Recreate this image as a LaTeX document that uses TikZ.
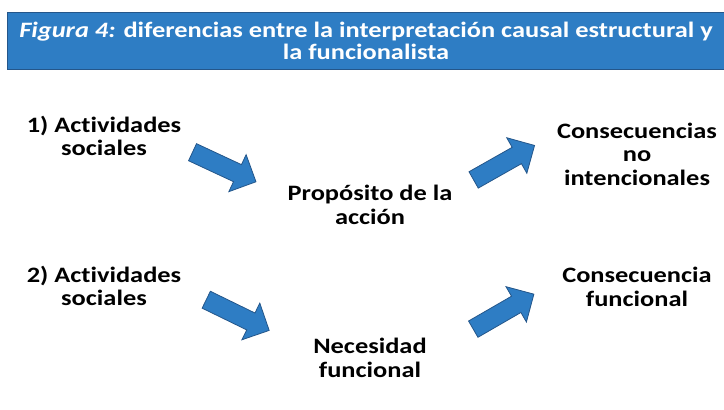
\documentclass[tikz,border=0pt]{standalone}
\usepackage{fontspec}
\setmainfont{Carlito}[FakeStretch=1.2, Ligatures=NoCommon]
\usetikzlibrary{shapes.arrows}
\definecolor{barblue}{RGB}{46,125,196}
\definecolor{edgeblue}{RGB}{36,86,138}
\tikzset{
  label/.style={font=\bfseries\fontsize{22}{23.5}\selectfont, align=center, inner sep=0pt},
  blockarrow/.style={single arrow, fill=barblue, draw=edgeblue, line width=0.8pt,
    minimum height=70, inner xsep=0pt, inner ysep=9pt, single arrow head extend=11pt,
    single arrow tip angle=90},
}
\begin{document}
\begin{tikzpicture}[x=1pt,y=-1pt]
\useasboundingbox (0,0) rectangle (724,410);
%title bar
\node [fill=barblue, draw=edgeblue, line width=1pt, minimum width=718, minimum height=57,
  text=white, font=\bfseries\fontsize{22}{22}\selectfont, align=center, inner sep=0pt]
  (title) at (366,40.5) {\textit{Figura 4:} diferencias entre la interpretación causal estructural y\\la funcionalista};

\node [label] (act1) at (104,136) {1) Actividades\\sociales};
\node [label] (prop) at (370,205) {Propósito de la\\acción};
\node [label] (cons1) at (637,154) {Consecuencias\\no\\intencionales};

\node [label] (act2) at (104,286) {2) Actividades\\sociales};
\node [label] (nec) at (370,358) {Necesidad\\funcional};
\node [label] (cons2) at (637,287) {Consecuencia\\funcional};

\node [blockarrow, rotate=-25] (ar1) at (220,165) {};
\node [blockarrow, rotate=29.5] (ar2) at (500,165) {};
\node [blockarrow, rotate=-26] (ar3) at (233.5,313) {};
\node [blockarrow, rotate=30] (ar4) at (499.5,314) {};
\end{tikzpicture}
\end{document}
